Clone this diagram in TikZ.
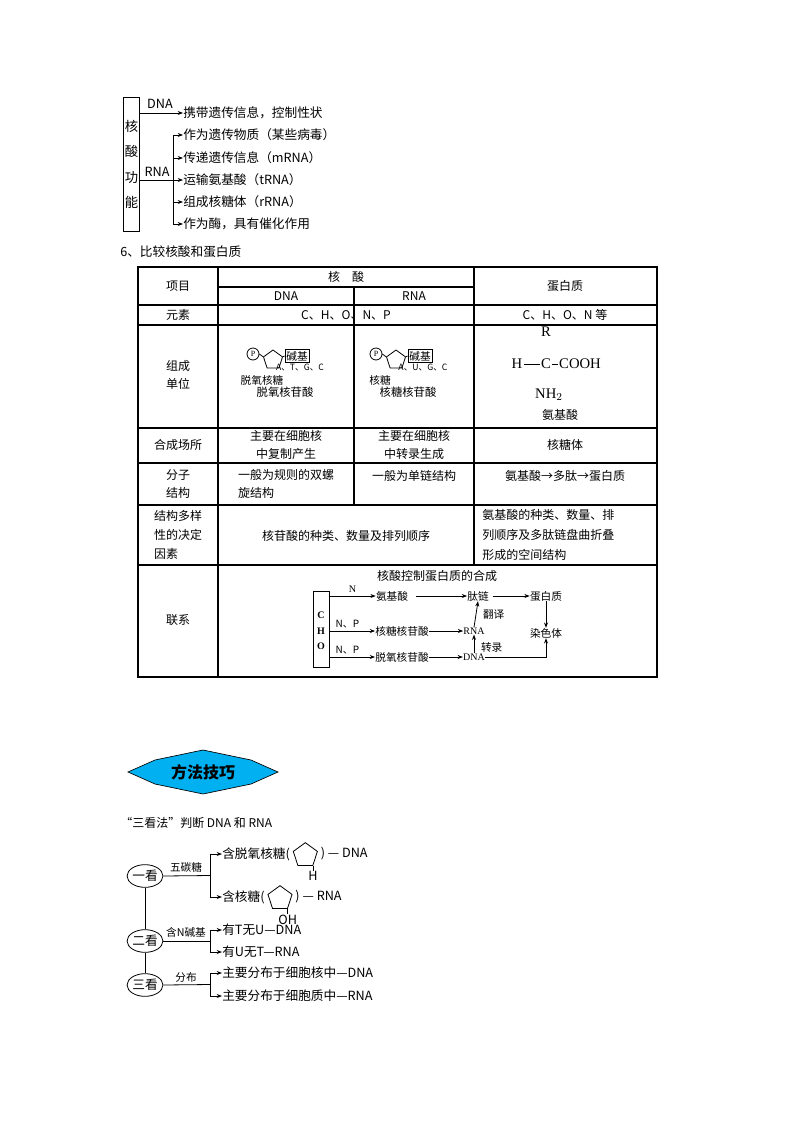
\documentclass[tikz,border=0pt]{standalone}
\usepackage{fontspec}
\setmainfont{Liberation Serif}
\newfontfamily\cjk{Noto Sans CJK SC}
\usetikzlibrary{arrows.meta,shapes.geometric}
\tikzset{
  t/.style={font=\cjk\fontsize{9.5}{12}\selectfont,inner sep=0pt},
  ts/.style={font=\cjk\fontsize{8}{10}\selectfont,inner sep=0pt},
  tb/.style={font=\cjk\fontsize{9}{14}\selectfont,inner sep=0pt,align=center},
  ar/.style={-{Stealth[length=4pt,width=3pt]},line width=0.6pt},
  ln/.style={line width=0.6pt},
  grid/.style={line width=0.8pt},
  pent/.style={regular polygon,regular polygon sides=5,draw,ln,minimum size=19pt,inner sep=0pt},
}
\begin{document}
\begin{tikzpicture}[x=0.75pt,y=-0.75pt]
\useasboundingbox (0,0) rectangle (800,1132);
% ===== top
\node[draw,ln,minimum width=12pt,minimum height=100pt,inner sep=0pt] (kbox) at (131.5,164.5) {};
\node[t,align=center,font=\cjk\fontsize{10}{19}\selectfont] (klab) at (131.5,164.5) {核\\酸\\功\\能};
\node[t,anchor=west] (d1) at (183,113) {携带遗传信息，控制性状};
\coordinate (dnas) at (140,113);
\draw[ar] (dnas) -- (d1.west);
\node[t] (dnal) at (160,104) {DNA};
\coordinate (rnas) at (140,180);
\coordinate (rnaj) at (173,180);
\node[t] (rnal) at (157,172) {RNA};
\draw[ln] (rnas) -- (rnaj);
\coordinate (rt) at (173,135);
\coordinate (rb) at (173,224);
\draw[ln] (rt) -- (rb);
\foreach \y/\s [count=\i] in {135/作为遗传物质（某些病毒）,158/传递遗传信息（mRNA）,180/运输氨基酸（tRNA）,202/组成核糖体（rRNA）,224/作为酶，具有催化作用}{
  \node[t,anchor=west] (r\i) at (183,\y) {\s};
  \coordinate (rc\i) at (173,\y);
  \draw[ar] (rc\i) -- (r\i.west);
}
\node[t,anchor=west] (h6) at (120,252) {6、比较核酸和蛋白质};
% ===== table
\draw[grid] (138,267) rectangle (657,677);
\foreach \y in {305,325,428,463,505,565}{ \draw[grid] (138,\y) -- (657,\y); }
\draw[grid] (218,267) -- (218,677);
\draw[grid] (474,267) -- (474,565);
\draw[grid] (354,287) -- (354,505);
\draw[grid] (218,287) -- (474,287);
\node[tb] (c11) at (178,286) {项目};
\node[tb] (c12) at (346,277) {核\quad 酸};
\node[tb] (c13) at (286,296) {DNA};
\node[tb] (c14) at (414,296) {RNA};
\node[tb] (c15) at (565,286) {蛋白质};
\node[tb] (c21) at (178,315) {元素};
\node[tb] (c22) at (346,315) {C、H、O、N、P};
\node[tb] (c23) at (565,315) {C、H、O、N 等};
\node[tb] (c31) at (178,375) {组成\\单位};
% nucleotides
\foreach \dx/\b/\s/\n/\sx in {0/A、T、G、C/脱氧核糖/脱氧核苷酸/262, 123/A、U、G、C/核糖/核糖核苷酸/257}{
  \begin{scope}[shift={(\dx,0)}]
  \node[draw,circle,ln,inner sep=0pt,minimum size=9pt,font=\fontsize{6}{6}\selectfont] (p) at (253,354) {P};
  \node[regular polygon,regular polygon sides=5,draw,ln,minimum size=15pt,inner sep=0pt] (pn) at (273,360) {};
  \draw[ln] (p.east) -- (pn.corner 2);
  \node[draw,ln,ts,inner sep=1pt] (jj) at (297,356) {碱基};
  \draw[ln] (pn.corner 5) -- (jj.west);
  \node[ts,font=\cjk\fontsize{6.5}{7}\selectfont] (bb) at (300,368) {\b};
  \node[ts] (sug) at (\sx,380) {\s};
  \node[ts,font=\cjk\fontsize{8.5}{10}\selectfont] (nn) at (285,392) {\n};
  \end{scope}
}
% amino acid
\node[tb,font=\fontsize{11}{12}\selectfont] (aR) at (546,332) {R};
\node[tb,font=\fontsize{11}{12}\selectfont] (aH) at (517,364) {H};
\node[tb,font=\fontsize{11}{12}\selectfont] (aC) at (546,364) {C};
\node[tb,font=\fontsize{11}{12}\selectfont] (aCO) at (580,364) {COOH};
\node[tb,font=\fontsize{11}{12}\selectfont] (aN) at (549,395) {NH$_2$};
\draw[line width=0.5pt] ([xshift=1pt]aH.east) -- ([xshift=-1pt]aC.west);
\draw[line width=0.5pt] ([xshift=1pt]aC.east) -- ([xshift=-1pt]aCO.west);
\node[tb] (aa) at (560,415) {氨基酸};
\node[tb] (c41) at (178,445) {合成场所};
\node[tb] (c42) at (286,445) {主要在细胞核\\中复制产生};
\node[tb] (c43) at (414,445) {主要在细胞核\\中转录生成};
\node[tb] (c44) at (565,445) {核糖体};
\node[tb] (c51) at (178,484) {分子\\结构};
\node[tb,align=left] (c52) at (286,484) {一般为规则的双螺\\旋结构};
\node[tb] (c53) at (414,476) {一般为单链结构};
\node[tb] (c54) at (565,476) {氨基酸→多肽→蛋白质};
\node[tb,align=left] (c61) at (178,535) {结构多样\\性的决定\\因素};
\node[tb] (c62) at (346,536) {核苷酸的种类、数量及排列顺序};
\node[tb,align=left,anchor=west,font=\cjk\fontsize{9}{15}\selectfont] (c63) at (482,535) {氨基酸的种类、数量、排\\列顺序及多肽链盘曲折叠\\形成的空间结构};
\node[tb] (c71) at (178,620) {联系};
\node[tb] (c72) at (437,576) {核酸控制蛋白质的合成};
% link diagram
\node[draw,ln,minimum width=12pt,minimum height=57pt,inner sep=0pt] (cho) at (321,629) {};
\node[ts,align=center,font=\fontsize{7.5}{11.5}\selectfont\bfseries] (chol) at (321,631) {C\\H\\O};
\node[ts] (aj) at (392,596) {氨基酸};
\node[ts] (hn) at (402,631) {核糖核苷酸};
\node[ts] (tn) at (402,657) {脱氧核苷酸};
\node[ts] (tl) at (478,596) {肽链};
\node[ts] (pr) at (546,596) {蛋白质};
\node[ts] (cs) at (546,633) {染色体};
\node[ts,font=\fontsize{7.5}{8}\selectfont] (rna) at (474,631) {RNA};
\node[ts,font=\fontsize{7.5}{8}\selectfont] (dna) at (474,657) {DNA};
\coordinate (o1) at (329,596); \coordinate (o2) at (329,631); \coordinate (o3) at (329,657);
\draw[ar] (o1) -- (aj.west) node[ts,pos=0.5,above=2pt,font=\fontsize{7.5}{8}\selectfont] {N};
\draw[ar] (o2) -- (hn.west) node[ts,pos=0.4,above=2pt,font=\cjk\fontsize{7.5}{8}\selectfont] {N、P};
\draw[ar] (o3) -- (tn.west) node[ts,pos=0.4,above=2pt,font=\cjk\fontsize{7.5}{8}\selectfont] {N、P};
\draw[ar] ([xshift=6pt]aj.east) -- (tl.west);
\draw[ar] ([xshift=3pt]tl.east) -- (pr.west);
\draw[ar] (pr.south) -- (cs.north);
\draw[ar] (hn.east) -- (rna.west);
\draw[ar] (tn.east) -- (dna.west);
\draw[ar] (rna.north) -- (tl.south) node[ts,pos=0.5,right=5pt] {翻译};
\draw[ar] (dna.north) -- (rna.south) node[ts,pos=0.3,right=5pt] {转录};
\draw[ar] (dna.east) -| (cs.south);
% ===== banner
\draw[fill={rgb,255:red,0;green,176;blue,240},line width=0.5pt] (128,772) -- (155,760) -- (203,750) -- (251,760) -- (278,772) -- (251,784) -- (203,794) -- (155,784) -- cycle;
\node[t,font=\cjk\fontsize{12}{14}\selectfont\bfseries] (ban) at (203,772) {方法技巧};
\node[t,anchor=west,font=\cjk\fontsize{9}{11}\selectfont] (san) at (120,823) {“三看法”判断 DNA 和 RNA};
% ===== three looks
\node[draw,ellipse,ln,minimum width=26pt,minimum height=17pt,inner sep=0pt,t] (k1) at (145,876) {一看};
\node[draw,ellipse,ln,minimum width=26pt,minimum height=17pt,inner sep=0pt,t] (k2) at (145,941) {二看};
\node[draw,ellipse,ln,minimum width=26pt,minimum height=17pt,inner sep=0pt,t] (k3) at (145,985) {三看};
\draw[ln] (k1) -- (k2); \draw[ln] (k2) -- (k3);
\foreach \k/\ya/\yb/\lab/\ly in {1/854/897/五碳糖/867,2/930/952/含N碱基/932,3/973/996/分布/977}{
  \coordinate (j\k) at (210,{(\ya+\yb)/2});
  \draw[ln] (k\k.east) -- (j\k);
  \draw[ln] (210,\ya) -- (210,\yb);
  \node[ts] at (186,\ly) {\lab};
}
\node[t,anchor=west] (e1) at (222,854) {含脱氧核糖(};
\node[pent,anchor=west] (pa) at ([xshift=3pt,yshift=-1pt]e1.east) {};
\node[t,anchor=west] (e1b) at ([xshift=3pt,yshift=1pt]pa.east) {)\ — DNA};
\node[t,anchor=west] (e2) at (222,897) {含核糖(};
\node[pent,anchor=west] (pb) at ([xshift=3pt,yshift=-1pt]e2.east) {};
\node[t,anchor=west] (e2b) at ([xshift=3pt,yshift=1pt]pb.east) {)\ — RNA};
\node[t,anchor=west] (e3) at (222,930) {有T无U—DNA};
\node[t,anchor=west] (e4) at (222,952) {有U无T—RNA};
\node[t,anchor=west] (e5) at (222,973) {主要分布于细胞核中—DNA};
\node[t,anchor=west] (e6) at (222,996) {主要分布于细胞质中—RNA};
\foreach \i/\y in {1/854,2/897,3/930,4/952,5/973,6/996}{
  \coordinate (s\i) at (210,\y);
  \draw[ar] (s\i) -- (e\i.west);
}
\node[t,anchor=north] (hh) at ([yshift=-4pt]pa.corner 4) {H};
\draw[ln] (pa.corner 4) -- (hh.north);
\node[t,anchor=north] (oh) at ([yshift=-4pt]pb.corner 4) {OH};
\draw[ln] (pb.corner 4) -- (oh.north);
\end{tikzpicture}
\end{document}
